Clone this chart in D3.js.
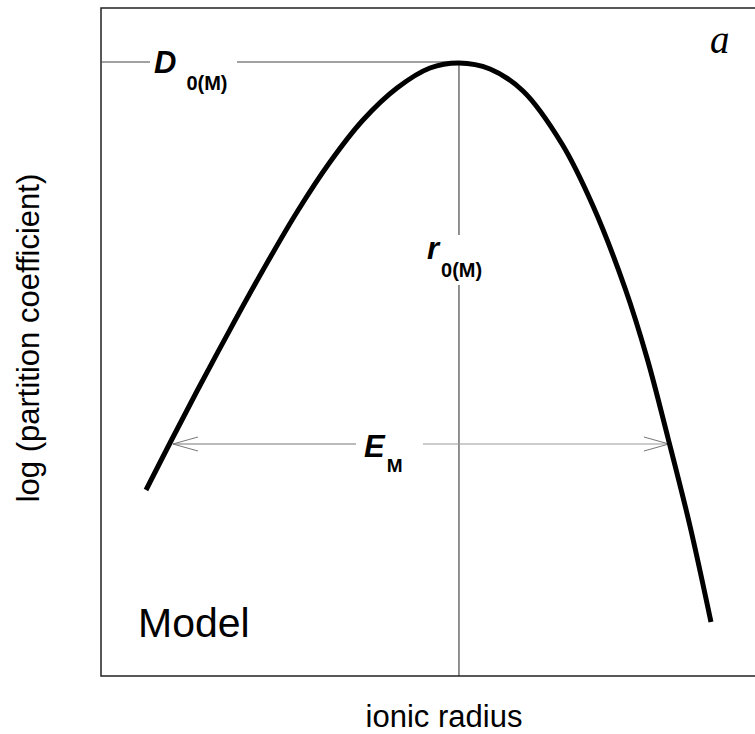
<!DOCTYPE html>
<html>
<head>
<meta charset="utf-8">
<script src="https://cdn.jsdelivr.net/npm/d3@7/dist/d3.min.js"></script>
<style>
  html, body { margin: 0; padding: 0; background: #fff; }
  svg { display: block; }
</style>
</head>
<body>
<svg id="chart" width="755" height="734"></svg>
<script>
// Lattice-strain curve: log partition coefficient against ionic radius (arbitrary units)
const radius = [0.682, 1.045, 1.455, 1.955, 2.455, 2.97, 3.47, 3.97, 4.485, 4.985, 5.424,
                5.894, 6.394, 6.985, 7.455, 7.939, 8.273, 8.591, 8.924, 9.242];
const logD   = [-2.135, -1.90, -1.64, -1.333, -1.035, -0.745, -0.495, -0.285, -0.125, -0.025, 0,
                -0.03, -0.14, -0.405, -0.715, -1.125, -1.475, -1.875, -2.315, -2.795];

// Optimum site: radius r0 and peak value D0
const r0 = 5.424;
const logD0 = 0;

// Width of the parabola (E_M arrows) at this level
const emLevel = -1.905;
const emLeft = 1.09;
const emRight = 8.605;

const xLabel = "ionic radius";
const yLabel = "log (partition coefficient)";
const panelLetter = "a";
const modelLabel = "Model";

const svg = d3.select("#chart");

const x = d3.scaleLinear().domain([0, 10]).range([101, 761]);
const y = d3.scaleLinear().domain([-3.065, 0.275]).range([676, 8]);

const sans = "'Liberation Sans', Arial, Helvetica, sans-serif";

// Plot frame (right edge runs off the page)
svg.append("rect")
  .attr("x", x(0)).attr("y", y(0.275))
  .attr("width", x(10) - x(0)).attr("height", y(-3.065) - y(0.275))
  .attr("fill", "none").attr("stroke", "#222").attr("stroke-width", 1.5);

// D0 reference line, broken around its label
const peakY = y(logD0);
svg.append("line")
  .attr("x1", x(0)).attr("x2", x(0) + 49)
  .attr("y1", peakY - 1).attr("y2", peakY - 1)
  .attr("stroke", "#444").attr("stroke-width", 1);
svg.append("line")
  .attr("x1", x(0) + 136).attr("x2", x(r0))
  .attr("y1", peakY - 1).attr("y2", peakY - 1)
  .attr("stroke", "#444").attr("stroke-width", 1);

// r0 reference line, broken around its label
svg.append("line")
  .attr("x1", x(r0)).attr("x2", x(r0))
  .attr("y1", peakY).attr("y2", 235)
  .attr("stroke", "#222").attr("stroke-width", 1);
svg.append("line")
  .attr("x1", x(r0)).attr("x2", x(r0))
  .attr("y1", 285).attr("y2", y(-3.065))
  .attr("stroke", "#222").attr("stroke-width", 1);

// E_M double arrow
const emY = y(emLevel);
svg.append("line")
  .attr("x1", x(emLeft)).attr("x2", 356)
  .attr("y1", emY).attr("y2", emY)
  .attr("stroke", "#777").attr("stroke-width", 1);
svg.append("line")
  .attr("x1", 423).attr("x2", x(emRight))
  .attr("y1", emY).attr("y2", emY)
  .attr("stroke", "#999").attr("stroke-width", 1);

const head = (tipX, dir) => {
  svg.append("path")
    .attr("d", `M${tipX + dir * 25},${emY - 7} L${tipX},${emY} L${tipX + dir * 25},${emY + 7}`)
    .attr("fill", "none").attr("stroke", "#777").attr("stroke-width", 1);
};
head(x(emLeft), 1);
head(x(emRight), -1);

// The curve
const pts = radius.map((r, i) => [r, logD[i]]);
svg.append("path")
  .datum(pts)
  .attr("d", d3.line().x(d => x(d[0])).y(d => y(d[1])).curve(d3.curveCatmullRom.alpha(0.5)))
  .attr("fill", "none").attr("stroke", "#000").attr("stroke-width", 5)
  .attr("stroke-linecap", "butt").attr("stroke-linejoin", "round");

// Annotation labels
const sym = (xx, yy, main, sub, dx, dy, subSize) => {
  const t = svg.append("text").attr("x", xx).attr("y", yy)
    .attr("font-family", sans).attr("fill", "#000");
  t.append("tspan").text(main)
    .attr("font-size", 31).attr("font-weight", "bold").attr("font-style", "italic");
  t.append("tspan").text(sub).attr("dx", dx).attr("dy", dy)
    .attr("font-size", subSize).attr("font-weight", "bold");
};
sym(154, peakY + 10, "D", "0(M)", 10, 17, 20);
sym(427, 259, "r", "0(M)", 2, 18, 20);
sym(364, emY + 13, "E", "M", 2, 15, 19);

svg.append("text")
  .attr("x", 710).attr("y", 53)
  .attr("font-family", "'Liberation Serif', 'Times New Roman', serif")
  .attr("font-style", "italic").attr("font-size", 39)
  .text(panelLetter);

svg.append("text")
  .attr("x", 138).attr("y", 637)
  .attr("font-family", sans).attr("font-size", 41)
  .text(modelLabel);

// Axis titles
svg.append("text")
  .attr("x", 444).attr("y", 727)
  .attr("text-anchor", "middle")
  .attr("font-family", sans).attr("font-size", 31)
  .text(xLabel);

svg.append("text")
  .attr("transform", "translate(39,338) rotate(-90)")
  .attr("text-anchor", "middle")
  .attr("font-family", sans).attr("font-size", 31)
  .text(yLabel);
</script>
</body>
</html>
